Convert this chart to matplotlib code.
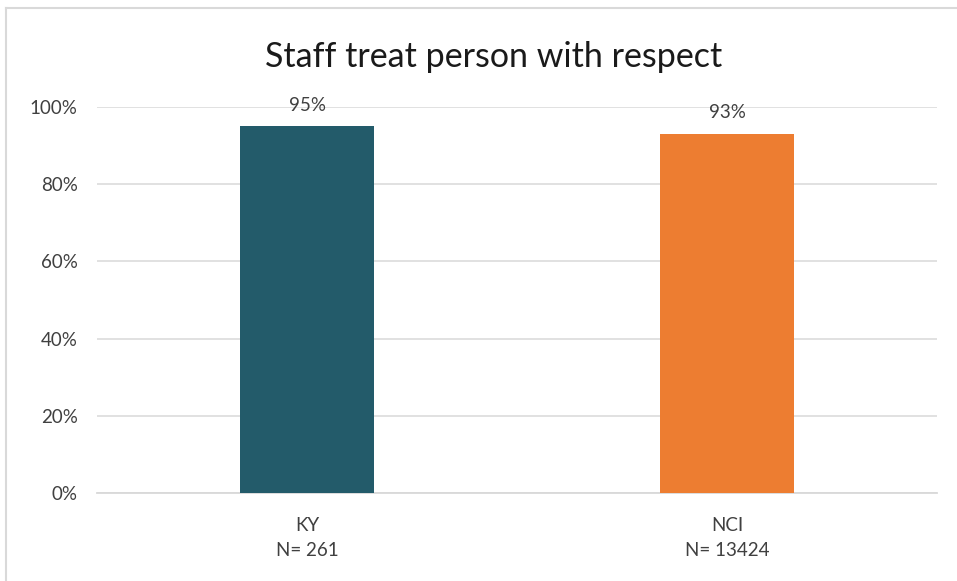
import matplotlib.pyplot as plt
from matplotlib.lines import Line2D
from matplotlib.ticker import PercentFormatter

# data
categories = ['KY', 'NCI']
sample_sizes = [261, 13424]
values = [0.95, 0.93]
colors = ['#235B6A', '#ED7D31']

plt.rcParams['font.family'] = ['Lato', 'DejaVu Sans']

fig = plt.figure(figsize=(9.57, 5.81), dpi=100)
ax = fig.add_axes([0.1014, 0.1515, 0.8777, 0.6644])

x = range(len(categories))
bars = ax.bar(x, values, width=0.317, color=colors, zorder=3)

# value labels above the bars
for bar, v in zip(bars, values):
    ax.annotate(f'{v:.0%}', (bar.get_x() + bar.get_width() / 2, v),
                xytext=(0, 9), textcoords='offset points',
                ha='center', va='bottom', fontsize=13.5, color='#404040')

ax.set_xlim(-0.5, len(categories) - 0.5)
ax.set_ylim(0, 1)
ax.set_yticks([0, 0.2, 0.4, 0.6, 0.8, 1.0])
ax.yaxis.set_major_formatter(PercentFormatter(1.0, decimals=0))
ax.set_xticks(list(x))
ax.set_xticklabels([f'{c}\nN= {n}' for c, n in zip(categories, sample_sizes)],
                   linespacing=1.6)

ax.tick_params(axis='both', length=0, labelsize=13.5, colors='#404040')
ax.tick_params(axis='x', pad=17)
ax.tick_params(axis='y', pad=14)
ax.grid(axis='y', color='#D9D9D9', linewidth=1.1, zorder=0)
for side in ['top', 'right', 'left']:
    ax.spines[side].set_visible(False)
ax.spines['bottom'].set_color('#D9D9D9')
ax.spines['bottom'].set_linewidth(1.3)

fig.text(0.5155, 0.902, 'Staff treat person with respect', ha='center', va='center',
         fontsize=24.5, color='#1a1a1a')

# chart border (left and top edges visible)
fig.add_artist(Line2D([5.5 / 957, 5.5 / 957], [0, 1 - 7.5 / 581], color='#D9D9D9', linewidth=1.5))
fig.add_artist(Line2D([5.5 / 957, 1], [1 - 7.5 / 581, 1 - 7.5 / 581], color='#D9D9D9', linewidth=1.5))

fig.savefig('out.png', dpi=100)
